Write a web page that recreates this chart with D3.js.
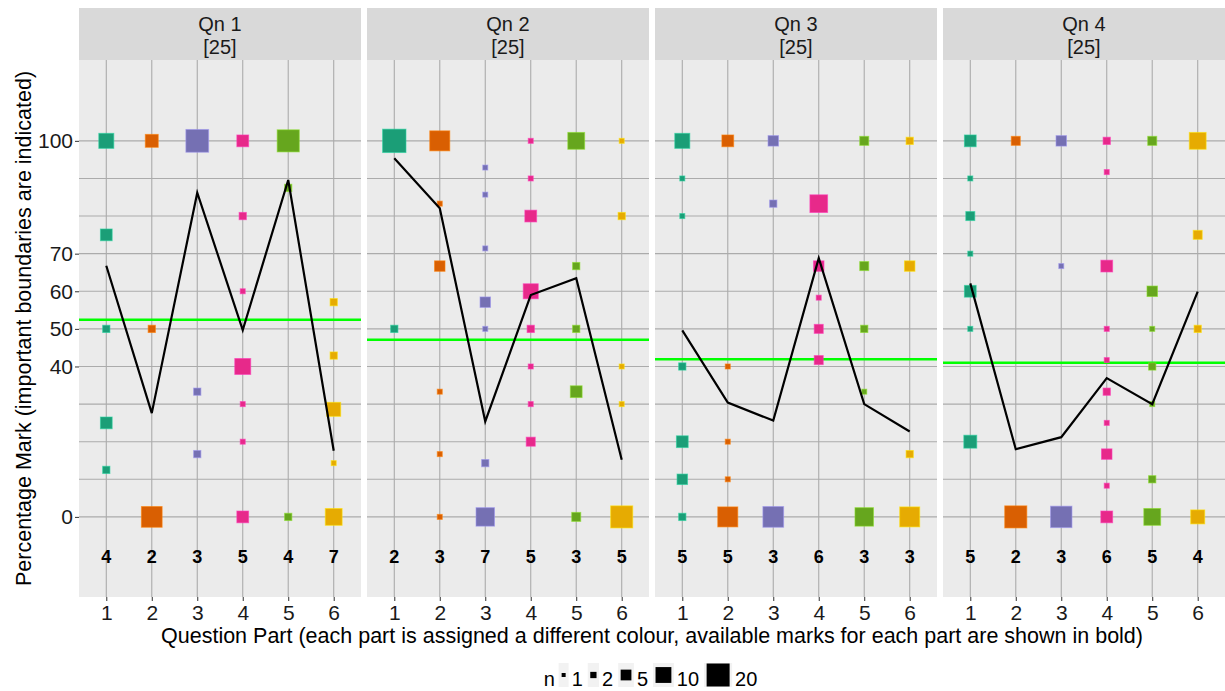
<!DOCTYPE html>
<html>
<head>
<meta charset="utf-8">
<script src="https://cdn.jsdelivr.net/npm/d3@7"></script>
<style>
  body { margin: 0; background: #fff; }
  text { font-family: "Liberation Sans", Arial, sans-serif; }
</style>
</head>
<body>
<svg width="1225" height="691"></svg>
<script>
// chart data
var panels = ["Qn 1", "Qn 2", "Qn 3", "Qn 4"];
var panelMax = ["[25]", "[25]", "[25]", "[25]"];
var parts = [1, 2, 3, 4, 5, 6];
var partColours = ["#1B9E77", "#D95F02", "#7570B3", "#E7298A", "#66A61E", "#E6AB02"];
var yTicks = [0, 40, 50, 60, 70, 100];
var yGrid = [0, 10, 20, 30, 40, 50, 60, 70, 80, 90, 100];
var legendN = [1, 2, 5, 10, 20];

// available marks per part (bold numbers)
var marks1 = [4, 2, 3, 5, 4, 7];
var marks2 = [2, 3, 7, 5, 3, 5];
var marks3 = [5, 5, 3, 6, 3, 3];
var marks4 = [5, 2, 3, 6, 5, 4];

// mean percentage per part (black line)
var mean1 = [66.8, 27.6, 86.2, 49.7, 89.6, 17.6];
var mean2 = [95.4, 82.1, 25.4, 59.0, 63.5, 15.2];
var mean3 = [49.6, 30.4, 25.6, 68.8, 30.0, 22.7];
var mean4 = [62.1, 18.0, 21.2, 36.9, 30.0, 59.9];

// overall mean per question (green line)
var overall = [52.4, 47.1, 41.9, 41.0];

// [part, percentage, n]
var pts1 = [[1,100,8],[1,75,5],[1,50,2],[1,25,5],[1,12.5,2],
  [2,100,6],[2,50,2],[2,0,15],
  [3,100,18],[3,33.3,2],[3,16.7,2],
  [4,100,5],[4,80,2],[4,60,1],[4,40,9],[4,30,1],[4,20,1],[4,0,5],
  [5,100,17],[5,87.5,2],[5,0,2],
  [6,57.1,2],[6,42.9,2],[6,28.6,7],[6,14.3,1],[6,0,10]];
var pts2 = [[1,100,19],[1,50,2],
  [2,100,14],[2,83.3,1],[2,66.7,4],[2,33.3,1],[2,16.7,1],[2,0,1],
  [3,92.9,1],[3,85.7,1],[3,71.4,1],[3,57.1,4],[3,50,1],[3,14.3,2],[3,0,12],
  [4,100,1],[4,90,1],[4,80,5],[4,60,8],[4,50,2],[4,40,1],[4,30,1],[4,20,3],
  [5,100,10],[5,66.7,2],[5,50,2],[5,33.3,5],[5,0,3],
  [6,100,1],[6,80,2],[6,40,1],[6,30,1],[6,0,17]];
var pts3 = [[1,100,8],[1,90,1],[1,80,1],[1,40,2],[1,20,5],[1,10,4],[1,0,2],
  [2,100,5],[2,40,1],[2,20,1],[2,10,1],[2,0,14],
  [3,100,4],[3,83.3,2],[3,0,15],
  [4,83.3,11],[4,66.7,4],[4,58.3,1],[4,50,3],[4,41.7,3],
  [5,100,3],[5,66.7,3],[5,50,2],[5,33.3,1],[5,0,12],
  [6,100,2],[6,66.7,4],[6,16.7,2],[6,0,14]];
var pts4 = [[1,100,5],[1,90,1],[1,80,3],[1,70,1],[1,60,5],[1,50,1],[1,20,6],
  [2,100,3],[2,0,17],
  [3,100,4],[3,66.7,1],[3,0,16],
  [4,100,2],[4,91.7,1],[4,66.7,5],[4,50,1],[4,41.7,1],[4,33.3,2],[4,25,1],[4,16.7,4],[4,8.3,1],[4,0,5],
  [5,100,3],[5,60,4],[5,50,1],[5,40,2],[5,30,1],[5,10,2],[5,0,10],
  [6,100,10],[6,75,3],[6,50,2],[6,0,7]];

var allMarks = [marks1, marks2, marks3, marks4];
var allMeans = [mean1, mean2, mean3, mean4];
var allPts = [pts1, pts2, pts3, pts4];

var svg = d3.select("svg"),
    left = 79, panelW = 282, gap = 6,
    stripTop = 8, plotTop = 60, plotBottom = 597,
    font = "'Liberation Sans', Arial, sans-serif";

var x = d3.scaleLinear().domain([0.4, 6.6]).range([0, panelW]),
    y = d3.scaleLinear().domain([-21.3, 121.5]).range([plotBottom, plotTop]),
    size = d3.scalePow().exponent(0.5).domain([1, 20]).range([5, 24]),
    colour = d3.scaleOrdinal().domain(parts).range(partColours);

var line = d3.line()
    .x(function (d, i) { return x(parts[i]); })
    .y(function (d) { return y(d); });

// y axis (only on the left)
var ya = svg.append("g")
    .attr("transform", "translate(" + left + ",0)")
    .call(d3.axisLeft(y).tickValues(yTicks).tickSize(4).tickPadding(2));
ya.attr("font-size", null).attr("font-family", null);
ya.select(".domain").remove();
ya.selectAll("line").attr("stroke", "#333");
ya.selectAll("text").style("font-size", "21px").attr("fill", "#1a1a1a")
    .style("font-family", font);

panels.forEach(function (name, p) {
    var g = svg.append("g")
        .attr("transform", "translate(" + (left + p * (panelW + gap)) + ",0)");

    // strip
    g.append("rect")
        .attr("x", 0).attr("y", stripTop)
        .attr("width", panelW).attr("height", plotTop - stripTop)
        .attr("fill", "#D9D9D9");
    g.append("text")
        .attr("x", panelW / 2).attr("y", 31)
        .attr("text-anchor", "middle")
        .style("font-size", "20px").attr("fill", "#1a1a1a")
        .text(name);
    g.append("text")
        .attr("x", panelW / 2).attr("y", 54)
        .attr("text-anchor", "middle")
        .style("font-size", "20px").attr("fill", "#1a1a1a")
        .text(panelMax[p]);

    // panel background
    g.append("rect")
        .attr("x", 0).attr("y", plotTop)
        .attr("width", panelW).attr("height", plotBottom - plotTop)
        .attr("fill", "#EBEBEB");

    // grid
    g.selectAll(".hgrid").data(yGrid).enter().append("line")
        .attr("x1", 0).attr("x2", panelW)
        .attr("y1", function (d) { return y(d); })
        .attr("y2", function (d) { return y(d); })
        .attr("stroke", "#ABABAB").attr("stroke-width", 1.1);
    g.selectAll(".vgrid").data(parts).enter().append("line")
        .attr("x1", function (d) { return x(d); })
        .attr("x2", function (d) { return x(d); })
        .attr("y1", plotTop).attr("y2", plotBottom)
        .attr("stroke", "#ABABAB").attr("stroke-width", 1.1);

    // green overall line
    g.append("line")
        .attr("x1", 0).attr("x2", panelW)
        .attr("y1", y(overall[p])).attr("y2", y(overall[p]))
        .attr("stroke", "#00FF00").attr("stroke-width", 2.5);

    // squares
    g.selectAll(".pt").data(allPts[p]).enter().append("rect")
        .attr("x", function (d) { return x(d[0]) - size(d[2]) / 2; })
        .attr("y", function (d) { return y(d[1]) - size(d[2]) / 2; })
        .attr("width", function (d) { return size(d[2]); })
        .attr("height", function (d) { return size(d[2]); })
        .attr("fill", function (d) { return colour(d[0]); })
        .attr("stroke", function (d) { return d3.color(colour(d[0])).brighter(0.8); })
        .attr("stroke-opacity", 0.6)
        .attr("stroke-width", 1);

    // mean line
    g.append("path")
        .datum(allMeans[p])
        .attr("d", line)
        .attr("fill", "none")
        .attr("stroke", "#000")
        .attr("stroke-width", 2.2);

    // available marks
    g.selectAll(".mk").data(allMarks[p]).enter().append("text")
        .attr("x", function (d, i) { return x(parts[i]); })
        .attr("y", y(-10) + 8.5)
        .attr("text-anchor", "middle")
        .style("font-size", "18px").attr("font-weight", "bold")
        .attr("fill", "#000")
        .text(function (d) { return d; });

    // x axis
    var xa = g.append("g")
        .attr("transform", "translate(0," + plotBottom + ")")
        .call(d3.axisBottom(x).tickValues(parts).tickSize(4).tickPadding(4)
            .tickFormat(d3.format("d")));
    xa.attr("font-size", null).attr("font-family", null);
    xa.select(".domain").remove();
    xa.selectAll("line").attr("stroke", "#333");
    xa.selectAll("text").style("font-size", "21px").attr("fill", "#1a1a1a")
        .style("font-family", font);
});

// axis titles
svg.append("text")
    .attr("x", 652).attr("y", 643)
    .attr("text-anchor", "middle")
    .style("font-size", "21.5px").attr("fill", "#000")
    .text("Question Part (each part is assigned a different colour, available marks for each part are shown in bold)");

svg.append("text")
    .attr("transform", "translate(31," + ((plotTop + plotBottom) / 2) + ") rotate(-90)")
    .attr("text-anchor", "middle")
    .style("font-size", "21.5px").attr("fill", "#000")
    .text("Percentage Mark (important boundaries are indicated)");

// size legend
var leg = svg.append("g");
var cx = 0, midY = 675;
leg.append("text").attr("x", cx).attr("y", midY + 11)
    .style("font-size", "20px").text("n");
cx += 15;
legendN.forEach(function (n) {
    var s = size(n) - 1, kw = Math.max(10, s + 5);
    leg.append("rect")
        .attr("x", cx).attr("y", midY - 12)
        .attr("width", kw).attr("height", 24)
        .attr("fill", "#F2F2F2");
    leg.append("rect")
        .attr("x", cx + kw / 2 - s / 2).attr("y", midY - s / 2)
        .attr("width", s).attr("height", s)
        .attr("fill", "#000");
    cx += kw + 3;
    var t = leg.append("text").attr("x", cx).attr("y", midY + 11)
        .style("font-size", "20px").text(n);
    cx += t.node().getComputedTextLength() + 5;
});
leg.attr("transform", "translate(" + (653 - cx / 2) + ",0)");
</script>
</body>
</html>
